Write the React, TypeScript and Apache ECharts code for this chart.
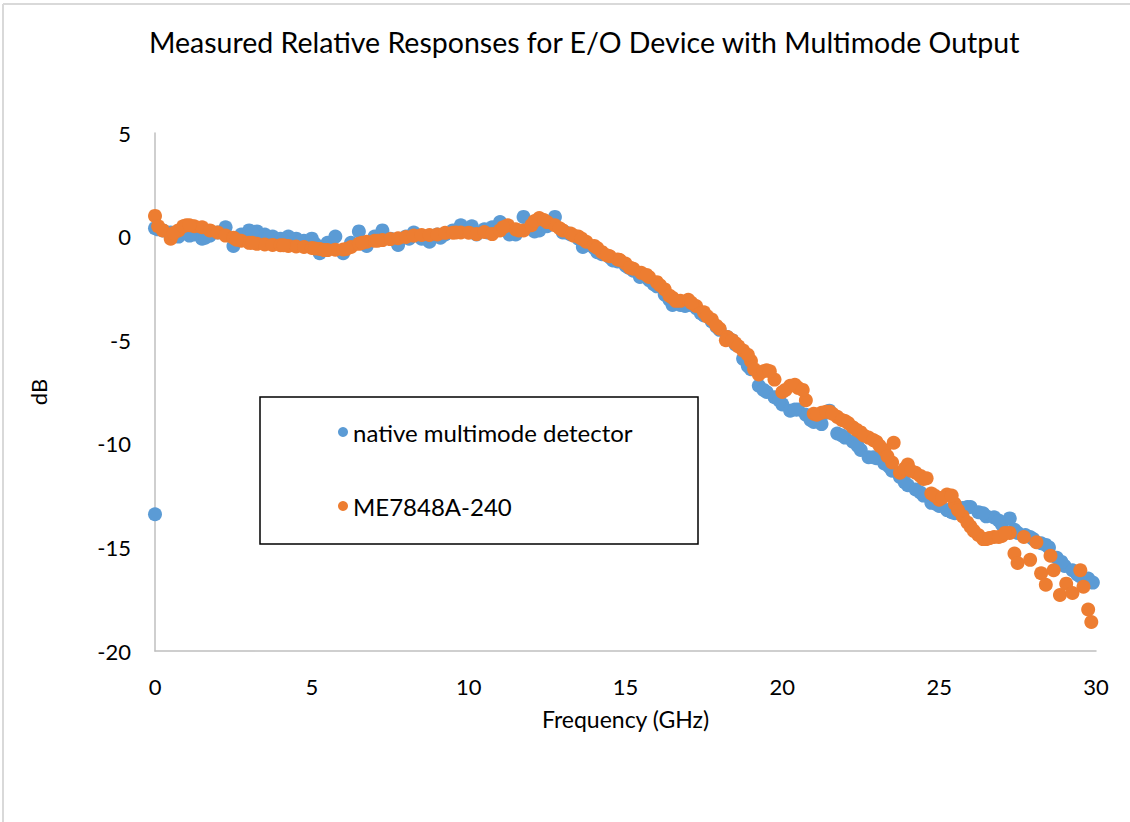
import React, { useEffect, useRef } from "react";
import * as echarts from "echarts";

const TITLE = "Measured Relative Responses for E/O Device with Multimode Output";
const X_NAME = "Frequency (GHz)";
const Y_NAME = "dB";
const SERIES_NAMES = ["native multimode detector", "ME7848A-240"];

const blueX = [
  0, 0, 0.25, 0.5, 0.75, 1, 1.25, 1.5, 1.75, 2, 2.25, 2.5, 2.75, 3, 3.25, 3.5, 3.75, 4, 4.25, 4.5, 4.75,
  5, 5.25, 5.5, 5.75, 6, 6.25, 6.5, 6.75, 7, 7.25, 7.5, 7.75, 8, 8.25, 8.5, 8.75, 9, 9.25, 9.5, 9.75,
  10, 10.25, 10.5, 10.75, 11, 11.25, 11.5, 11.75, 12, 12.25, 12.5, 12.75, 13, 13.25, 13.5, 13.75,
  14, 14.25, 14.5, 14.75, 15, 15.25, 15.5, 15.75, 16, 16.25, 16.5, 16.75, 17, 17.25, 17.5, 17.75,
  18, 18.25, 18.5, 18.75, 19, 19.25, 19.5, 19.75, 20, 20.25, 20.5, 20.75, 21, 21.25, 21.5, 21.75,
  22, 22.25, 22.5, 22.75, 23, 23.25, 23.5, 23.75, 24, 24.25, 24.5, 24.75, 25, 25.25, 25.5, 25.75,
  26, 26.25, 26.5, 26.75, 27, 27.25, 27.5, 27.75, 28, 28.25, 28.5, 28.75, 29, 29.25, 29.5, 29.75, 29.9,
];
const blueY = [
  -13.4, 0.4, 0.3, 0.2, 0.0, 0.15, 0.1, -0.1, 0.05, 0.2, 0.45, -0.45, 0.1, 0.3, 0.25, 0.1, 0.0, -0.1, 0.0, -0.1, -0.2,
  -0.1, -0.8, -0.3, 0.0, -0.8, -0.3, 0.25, -0.45, 0.0, 0.3, -0.1, -0.4, 0.0, 0.2, -0.1, -0.25, 0.1, 0.1, 0.3, 0.55,
  0.3, 0.1, 0.35, 0.45, 0.7, 0.5, 0.1, 0.95, 0.4, 0.3, 0.5, 0.95, 0.2, 0.1, -0.1, -0.4,
  -0.55, -0.85, -1.0, -1.2, -1.4, -1.65, -1.9, -2.1, -2.4, -2.8, -3.3, -3.3, -3.3, -3.45, -3.8, -4.1,
  -4.5, -4.85, -5.2, -5.9, -6.4, -7.2, -7.5, -7.75, -8.1, -8.4, -8.35, -8.6, -8.95, -9.05, -8.4, -9.5,
  -9.7, -9.9, -10.3, -10.65, -10.7, -10.95, -11.3, -11.6, -12.0, -12.2, -12.5, -12.85, -13.0, -13.2, -13.35, -13.1,
  -13.05, -13.3, -13.5, -13.55, -13.9, -13.6, -14.3, -14.4, -14.6, -14.8, -15.0, -15.5, -15.9, -16.1, -16.4, -16.5, -16.7,
];
const blueExtraX = [
  0.1, 0.6, 1.1, 1.6, 3.1, 3.6, 4.1, 4.6, 5.1, 7.1, 8.1, 8.6, 9.1, 10.1, 10.6, 11.3, 12.1, 12.6, 13.1,
  13.64, 14.1, 14.6, 15.1, 15.46, 15.9, 16.4, 16.9, 17.4, 17.9, 18.4, 18.9, 19.4, 19.9, 20.4, 20.9, 21.4,
  21.9, 22.4, 22.9, 23.4, 23.9, 24.4, 24.9, 25.4, 25.9, 26.4, 26.9, 27.4, 27.9, 28.4, 28.9, 29.4,
];
const blueExtraY = [
  0.35, 0.1, 0.05, -0.05, 0.2, -0.05, -0.2, -0.25, -0.35, -0.15, -0.1, 0.0, -0.05, 0.5, 0.2, 0.1, 0.25, 0.6, 0.2,
  -0.5, -0.75, -1.15, -1.5, -1.95, -2.3, -3.05, -3.35, -3.7, -4.35, -5.0, -6.25, -7.4, -7.9, -8.35, -8.85, -8.5,
  -9.6, -10.1, -10.65, -11.1, -11.85, -12.35, -12.9, -13.3, -13.05, -13.35, -13.7, -14.15, -14.5, -14.88, -15.7, -16.3,
];

const orangeX = [
  0, 0.25, 0.5, 0.75, 1, 1.25, 1.5, 1.75, 2, 2.25, 2.5, 2.75, 3, 3.25, 3.5, 3.75, 4, 4.25, 4.5, 4.75,
  5, 5.25, 5.5, 5.75, 6, 6.25, 6.5, 6.75, 7, 7.25, 7.5, 7.75, 8, 8.25, 8.5, 8.75, 9, 9.25, 9.5, 9.75,
  10, 10.25, 10.5, 10.75, 11, 11.25, 11.5, 11.75, 12, 12.25, 12.5, 12.75, 13, 13.25, 13.5, 13.75,
  14, 14.25, 14.5, 14.75, 15, 15.25, 15.5, 15.75, 16, 16.25, 16.5, 16.75, 17, 17.25, 17.5, 17.75,
  18, 18.25, 18.5, 18.75, 19, 19.25, 19.5, 19.75, 20, 20.25, 20.5, 20.75, 21, 21.25, 21.5, 21.75,
  22, 22.25, 22.5, 22.75, 23, 23.25, 23.5, 23.55, 23.75, 24, 24.25, 24.5, 24.75, 25, 25.25, 25.5, 25.75,
  26, 26.25, 26.5, 26.75, 27, 27.25, 27.4, 27.5, 27.7, 27.9, 28.1, 28.25, 28.4, 28.55, 28.65, 28.85,
  29.05, 29.25, 29.5, 29.6, 29.75, 29.85,
];
const orangeY = [
  1.0, 0.3, -0.1, 0.3, 0.55, 0.5, 0.45, 0.3, 0.2, 0.05, -0.05, -0.2, -0.3, -0.35, -0.38, -0.4, -0.42, -0.45, -0.48, -0.5,
  -0.55, -0.6, -0.65, -0.63, -0.62, -0.5, -0.35, -0.25, -0.2, -0.17, -0.12, -0.08, -0.02, 0.05, 0.08, 0.08, 0.1, 0.18, 0.19, 0.2,
  0.19, 0.12, 0.22, 0.12, 0.3, 0.55, 0.35, 0.3, 0.55, 0.9, 0.7, 0.55, 0.3, 0.15, 0.0, -0.25,
  -0.45, -0.75, -0.95, -1.1, -1.3, -1.55, -1.75, -1.95, -2.2, -2.55, -2.95, -3.1, -3.05, -3.35, -3.65, -4.0,
  -4.45, -4.85, -5.15, -5.5, -6.0, -6.65, -6.45, -6.9, -7.5, -7.2, -7.3, -7.9, -8.55, -8.5, -8.45, -8.7,
  -8.9, -9.2, -9.45, -9.7, -9.9, -10.3, -10.9, -9.95, -11.4, -11.0, -11.4, -11.7, -12.4, -12.7, -12.45, -12.9, -13.5,
  -14.0, -14.4, -14.6, -14.5, -14.45, -14.3, -15.3, -15.75, -14.5, -15.6, -14.75, -16.25, -16.8, -15.4, -16.1, -17.3,
  -16.75, -17.2, -16.1, -16.9, -18.0, -18.6,
];
const orangeExtraX = [
  0.1, 0.6, 0.9, 1.1, 2.6, 3.1, 4.1, 5.1, 5.4, 6.1, 6.6, 7.1, 9.6, 11.1, 11.6, 12.1, 12.4, 12.9, 13.35, 13.6,
  14.1, 14.4, 14.82, 15.14, 15.67, 16.1, 16.4, 16.6, 17.1, 17.6, 17.9, 18.2, 18.4, 18.6, 18.9, 19.1, 19.4, 19.6,
  20.1, 20.4, 20.65, 21.1, 21.4, 21.6, 21.9, 22.1, 22.37, 22.6, 22.9, 23.1, 23.35, 23.9, 24.1, 24.4, 24.6, 24.85,
  25.1, 25.4, 25.6, 25.9, 26.1, 26.4, 26.6, 26.9, 27.1,
];
const orangeExtraY = [
  0.5, 0.17, 0.5, 0.55, -0.15, -0.3, -0.42, -0.57, -0.65, -0.6, -0.3, -0.2, 0.2, 0.45, 0.3, 0.75, 0.8, 0.4, 0.05, -0.1,
  -0.55, -0.9, -1.13, -1.5, -1.85, -2.35, -2.85, -3.1, -3.2, -3.85, -4.3, -5.0, -5.0, -5.3, -5.7, -6.4, -6.5, -6.5,
  -7.4, -7.15, -7.4, -8.6, -8.45, -8.55, -8.85, -9.0, -9.33, -9.6, -9.82, -10.1, -10.6, -11.2, -11.3, -11.55, -11.66, -12.5,
  -12.6, -12.5, -13.2, -13.8, -14.2, -14.6, -14.55, -14.5, -14.3,
];

const X_MIN = 0, X_MAX = 30, X_STEP = 5;
const Y_MIN = -20, Y_MAX = 5, Y_STEP = 5;

const FONT = "Lato";

export default function App() {
  const ref = useRef<HTMLDivElement>(null);
  useEffect(() => {
    if (!ref.current) return;
    const chart = echarts.init(ref.current, null, { renderer: "svg" });
    const pts = (xs: number[], ys: number[]) => xs.map((x, i) => [x, ys[i]]);
    chart.setOption({
      animation: false,
      backgroundColor: "#ffffff",
      textStyle: { fontFamily: FONT },
      title: {
        text: TITLE,
        left: 144,
        top: 22,
        textStyle: { fontFamily: FONT, fontSize: 28.5, fontWeight: "normal", color: "#000" },
      },
      grid: { left: 155, right: 34, top: 133, bottom: 171, containLabel: false },
      legend: {
        show: true,
        orient: "vertical",
        left: 333,
        top: 413,
        z: 20,
        itemWidth: 10,
        itemHeight: 10,
        itemGap: 46,
        icon: "circle",
        textStyle: { fontFamily: FONT, fontSize: 24, color: "#000", lineHeight: 28 },
        data: SERIES_NAMES,
      },
      graphic: [
        { type: "line", shape: { x1: 3, y1: 4, x2: 1130, y2: 4 }, style: { stroke: "#d9d9d9", lineWidth: 2 } },
        { type: "line", shape: { x1: 3, y1: 4, x2: 3, y2: 822 }, style: { stroke: "#d9d9d9", lineWidth: 2 } },
        {
          type: "rect",
          z: 1,
          shape: { x: 260, y: 397, width: 438, height: 147 },
          style: { fill: "#ffffff", stroke: "#000000", lineWidth: 1.5 },
        },
      ],
      xAxis: {
        type: "value",
        min: X_MIN,
        max: X_MAX,
        interval: X_STEP,
        name: X_NAME,
        nameLocation: "middle",
        nameGap: 56,
        nameTextStyle: { fontFamily: FONT, fontSize: 23, color: "#000" },
        axisLine: { show: true, onZero: false, lineStyle: { color: "#bfbfbf", width: 1.5 } },
        axisTick: { show: false },
        splitLine: { show: false },
        axisLabel: { fontFamily: FONT, fontSize: 22, color: "#000", margin: 24 },
      },
      yAxis: {
        type: "value",
        min: Y_MIN,
        max: Y_MAX,
        interval: Y_STEP,
        name: Y_NAME,
        nameLocation: "middle",
        nameGap: 106,
        nameRotate: 90,
        nameTextStyle: { fontFamily: FONT, fontSize: 22, color: "#000" },
        axisLine: { show: true, onZero: false, lineStyle: { color: "#bfbfbf", width: 1.5 } },
        axisTick: { show: false },
        splitLine: { show: false },
        axisLabel: { fontFamily: FONT, fontSize: 22, color: "#000", margin: 24 },
      },
      series: [
        {
          name: SERIES_NAMES[0],
          type: "scatter",
          symbol: "circle",
          symbolSize: 14,
          itemStyle: { color: "#5B9BD5", opacity: 1 },
          data: pts(blueX, blueY).concat(pts(blueExtraX, blueExtraY)),
          z: 2,
        },
        {
          name: SERIES_NAMES[1],
          type: "scatter",
          symbol: "circle",
          symbolSize: 14,
          itemStyle: { color: "#ED7D31", opacity: 1 },
          data: pts(orangeX, orangeY).concat(pts(orangeExtraX, orangeExtraY)),
          z: 3,
        },
      ],
    });
    return () => chart.dispose();
  }, []);
  return (
    <div
      ref={ref}
      style={{ position: "absolute", left: 0, top: 0, width: 1130, height: 822 }}
    />
  );
}
